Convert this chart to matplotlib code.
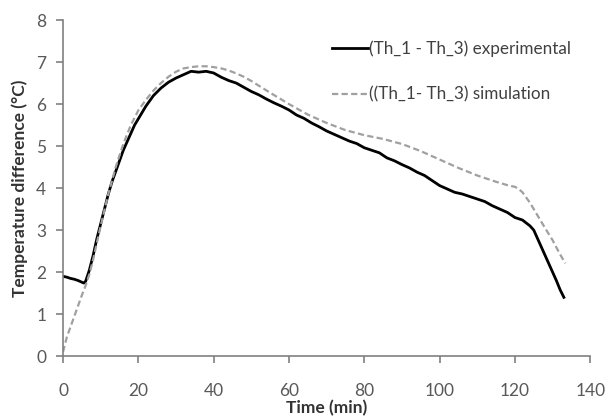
import numpy as np
import matplotlib.pyplot as plt

plt.rcParams['font.family'] = ['Lato', 'DejaVu Sans']

# experimental curve
t_exp = [0, 1, 2, 3, 4, 5, 5.5, 6, 7, 8, 9, 10, 11, 12, 13, 14, 15, 16, 17, 18, 19, 20,
         22, 24, 26, 28, 30, 32, 34, 36, 38, 40, 42, 44, 46, 48, 50, 52, 54, 56, 58,
         60, 62, 64, 66, 68, 70, 72, 74, 76, 78, 80, 82, 84, 86, 88, 90, 92, 94, 96,
         98, 100, 102, 104, 106, 108, 110, 112, 114, 116, 118, 120, 122, 124, 125,
         126, 127, 128, 129, 130, 131, 132, 133]
v_exp = [1.90, 1.88, 1.85, 1.83, 1.80, 1.76, 1.74, 1.78, 2.05, 2.40, 2.80, 3.15, 3.50,
         3.85, 4.15, 4.40, 4.65, 4.90, 5.10, 5.30, 5.50, 5.65, 5.95, 6.20, 6.38, 6.52,
         6.62, 6.70, 6.78, 6.76, 6.78, 6.74, 6.64, 6.56, 6.50, 6.40, 6.30, 6.22, 6.12,
         6.03, 5.95, 5.86, 5.74, 5.66, 5.55, 5.46, 5.36, 5.28, 5.20, 5.12, 5.06, 4.96,
         4.90, 4.84, 4.72, 4.65, 4.56, 4.48, 4.38, 4.30, 4.18, 4.06, 3.98, 3.90, 3.86,
         3.80, 3.74, 3.68, 3.58, 3.50, 3.42, 3.30, 3.24, 3.10, 3.00, 2.80, 2.60, 2.40,
         2.20, 2.00, 1.80, 1.58, 1.40]

# simulation curve
t_sim = [0, 1, 2, 3, 4, 5, 6, 7, 8, 9, 10, 12, 14, 16, 18, 20, 22, 24, 26, 28, 30,
         32, 34, 36, 38, 40, 42, 44, 46, 48, 50, 55, 60, 65, 70, 75, 80, 85, 90, 95,
         100, 105, 110, 115, 118, 120, 121, 122, 124, 126, 128, 130, 132, 133.4]
v_sim = [0.10, 0.45, 0.70, 0.95, 1.20, 1.45, 1.68, 1.95, 2.30, 2.70, 3.10, 3.85,
         4.50, 5.05, 5.50, 5.85, 6.10, 6.32, 6.50, 6.65, 6.77, 6.85, 6.88, 6.90,
         6.90, 6.88, 6.85, 6.80, 6.73, 6.65, 6.55, 6.27, 6.00, 5.75, 5.55, 5.38,
         5.26, 5.17, 5.05, 4.88, 4.68, 4.48, 4.30, 4.15, 4.07, 4.03, 3.98, 3.90,
         3.65, 3.35, 3.05, 2.76, 2.42, 2.21]

fig = plt.figure(figsize=(6.06, 4.18), dpi=100)
ax = fig.add_axes([0.104, 0.148, 0.87, 0.804])

ax.plot(t_exp, v_exp, color='black', lw=2.0,
        label='(Th_1 - Th_3) experimental')
ax.plot(t_sim, v_sim, color='#a0a0a0', lw=1.6, ls=(0, (2.8, 1.5)),
        label='((Th_1- Th_3) simulation')

ax.set_xlim(0, 140)
ax.set_ylim(0, 8)
ax.set_xticks(np.arange(0, 141, 20))
ax.set_yticks(np.arange(0, 9, 1))

for s in ['top', 'right']:
    ax.spines[s].set_visible(False)
for s in ['left', 'bottom']:
    ax.spines[s].set_color('#808080')
    ax.spines[s].set_linewidth(1.2)
ax.tick_params(colors='#808080', labelcolor='#595959', labelsize=12.5, length=5, width=1.2)
ax.tick_params(axis='x', pad=14)
ax.tick_params(axis='y', pad=7)

ax.set_xlabel('Time (min)', fontsize=12.5, fontweight='bold', color='#333333', labelpad=1)
ax.set_ylabel('Temperature difference (°C)', fontsize=12.5, fontweight='bold',
              color='#333333', labelpad=6)

ax.legend(loc='upper left', bbox_to_anchor=(0.51, 0.94), frameon=False,
          borderpad=0, borderaxespad=0,
          fontsize=12.3, handlelength=2.1, handletextpad=0.1, labelspacing=1.75,
          labelcolor='#404040')

fig.savefig('out.png', dpi=100)
